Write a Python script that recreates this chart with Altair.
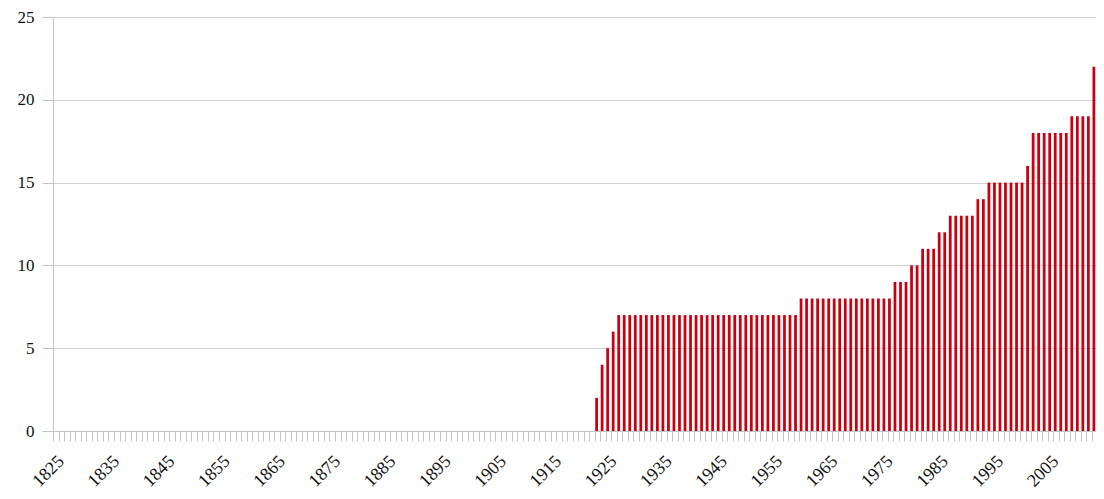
import altair as alt
import pandas as pd

# Years shown on the category axis
years = list(range(1825, 2014))

# Bar heights, one row per decade starting at 1825
values = [
    0, 0, 0, 0, 0, 0, 0, 0, 0, 0,          # 1825-1834
    0, 0, 0, 0, 0, 0, 0, 0, 0, 0,          # 1835-1844
    0, 0, 0, 0, 0, 0, 0, 0, 0, 0,          # 1845-1854
    0, 0, 0, 0, 0, 0, 0, 0, 0, 0,          # 1855-1864
    0, 0, 0, 0, 0, 0, 0, 0, 0, 0,          # 1865-1874
    0, 0, 0, 0, 0, 0, 0, 0, 0, 0,          # 1875-1884
    0, 0, 0, 0, 0, 0, 0, 0, 0, 0,          # 1885-1894
    0, 0, 0, 0, 0, 0, 0, 0, 0, 0,          # 1895-1904
    0, 0, 0, 0, 0, 0, 0, 0, 0, 0,          # 1905-1914
    0, 0, 0, 0, 0, 0, 0, 0, 2, 4,          # 1915-1924
    5, 6, 7, 7, 7, 7, 7, 7, 7, 7,          # 1925-1934
    7, 7, 7, 7, 7, 7, 7, 7, 7, 7,          # 1935-1944
    7, 7, 7, 7, 7, 7, 7, 7, 7, 7,          # 1945-1954
    7, 7, 7, 7, 7, 8, 8, 8, 8, 8,          # 1955-1964
    8, 8, 8, 8, 8, 8, 8, 8, 8, 8,          # 1965-1974
    8, 8, 9, 9, 9, 10, 10, 11, 11, 11,     # 1975-1984
    12, 12, 13, 13, 13, 13, 13, 14, 14, 15,  # 1985-1994
    15, 15, 15, 15, 15, 15, 16, 18, 18, 18,  # 1995-2004
    18, 18, 18, 18, 19, 19, 19, 19, 22,    # 2005-2013
]

label_years = [1825, 1835, 1845, 1855, 1865, 1875, 1885, 1895, 1905, 1915,
               1925, 1935, 1945, 1955, 1965, 1975, 1985, 1995, 2005]
y_ticks = [0, 5, 10, 15, 20, 25]

df = pd.DataFrame({"year": years, "value": values})

FONT = "Liberation Serif"
GRAY = "#c4c4c4"
label_list = "[" + ",".join(str(v) for v in label_years) + "]"

chart = (
    alt.Chart(df)
    .mark_bar(color="#c8000f")
    .encode(
        x=alt.X(
            "year:O",
            scale=alt.Scale(paddingInner=0.5, paddingOuter=0.13),
            axis=alt.Axis(
                title=None,
                bandPosition=0,
                tickSize=10,
                tickColor=GRAY,
                domainColor=GRAY,
                labelAngle=-45,
                labelAlign="right",
                labelBaseline="top",
                labelPadding=11,
                labelOverlap=False,
                labelFont=FONT,
                labelFontSize=18,
                labelColor="#111111",
                labelExpr="indexof(" + label_list + ", datum.value) >= 0 ? datum.value : ''",
                grid=False,
            ),
        ),
        y=alt.Y(
            "value:Q",
            scale=alt.Scale(domain=[0, 25], nice=False),
            axis=alt.Axis(
                title=None,
                values=y_ticks,
                tickSize=11,
                tickColor=GRAY,
                domainColor=GRAY,
                gridColor="#d0d0d0",
                labelPadding=8,
                labelFont=FONT,
                labelFontSize=17,
                labelColor="#111111",
            ),
        ),
    )
    .properties(
        width=1043,
        height=414,
        autosize=alt.AutoSizeParams(type="none"),
        padding={"left": 45, "top": 9, "right": 0, "bottom": 60},
    )
    .configure_view(strokeWidth=0)
)

chart.save("out.html", embed_options={"renderer": "svg", "actions": False})
